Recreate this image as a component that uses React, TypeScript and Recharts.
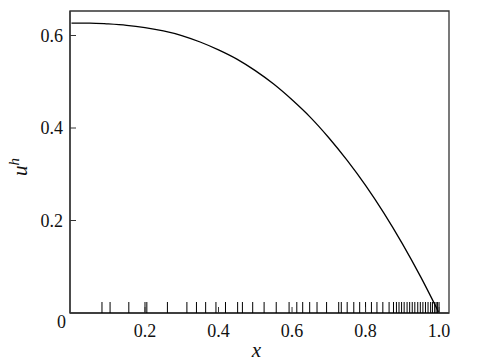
import React from "react";
import { ComposedChart, Line, Scatter, XAxis, YAxis, Label, ReferenceArea } from "recharts";

// discrete solution u^h sampled along x
const xGrid = [0, 0.05, 0.1, 0.15, 0.2, 0.25, 0.3, 0.35, 0.4, 0.45, 0.5, 0.55, 0.6, 0.65, 0.7, 0.75, 0.8, 0.85, 0.9, 0.95, 1.0];
const uh = [0.627, 0.627, 0.625, 0.622, 0.617, 0.61, 0.6, 0.586, 0.569, 0.549, 0.524, 0.495, 0.461, 0.423, 0.379, 0.33, 0.276, 0.216, 0.15, 0.078, 0.0];

// mesh nodes (rug marks along the bottom)
const meshNodes = [
	0.083, 0.105, 0.156, 0.2, 0.205, 0.261, 0.314, 0.34, 0.365, 0.393, 0.419, 0.452, 0.465, 0.493,
	0.524, 0.557, 0.592, 0.613, 0.629, 0.648, 0.668, 0.694, 0.727, 0.734, 0.75, 0.768, 0.784, 0.8,
	0.816, 0.831, 0.847, 0.864, 0.876, 0.884, 0.891, 0.898, 0.905, 0.913, 0.92, 0.927, 0.934, 0.942,
	0.949, 0.956, 0.963, 0.97, 0.977, 0.982, 0.988, 0.992, 0.996, 1.0,
];

const xTicks = [0.2, 0.4, 0.6, 0.8, 1.0];
const yTicks = [0, 0.2, 0.4, 0.6];

const X_DOMAIN = [-0.004, 1.027];
const Y_DOMAIN = [0, 0.653];

const curve = xGrid.map((x, i) => ({ x, u: uh[i] }));
const rug = meshNodes.map((x) => ({ x, u: 0 }));

const FONT = "serif";
const FRAME = "#333";

const XTick = ({ x, y, payload }: any) => (
	<g>
		<line x1={x} x2={x} y1={y} y2={y - 6} stroke={FRAME} strokeWidth={1} />
		<text x={x} y={y + 24} textAnchor="middle" fontFamily={FONT} fontSize={18} fill="#111">
			{payload.value.toFixed(1)}
		</text>
	</g>
);

const YTick = ({ x, y, payload }: any) => {
	const isZero = payload.value === 0;
	return (
		<g>
			{!isZero && <line x1={x + 7} x2={x + 13} y1={y} y2={y} stroke={FRAME} strokeWidth={1} />}
			<text
				x={isZero ? x + 3 : x}
				y={isZero ? y + 15 : y + 6}
				textAnchor="end"
				fontFamily={FONT}
				fontSize={18}
				fill="#111"
			>
				{isZero ? "0" : payload.value.toFixed(1)}
			</text>
		</g>
	);
};

const RugMark = ({ cx, cy }: any) => (
	<line x1={cx} x2={cx} y1={cy} y2={cy - 11} stroke="#000" strokeWidth={1} />
);

export default function App() {
	return (
		<div style={{ position: "absolute", left: 0, top: 0, width: 495, height: 362, background: "#fff" }}>
			<ComposedChart width={495} height={362} margin={{ top: 11, right: 46, bottom: 0, left: 0 }}>
				<XAxis
					xAxisId="bottom"
					type="number"
					dataKey="x"
					domain={X_DOMAIN}
					ticks={xTicks}
					height={49}
					tickSize={0}
					tickMargin={0}
					tick={<XTick />}
					axisLine={{ stroke: FRAME, strokeWidth: 1.3 }}
					allowDataOverflow
				>
					<Label
						content={({ viewBox }: any) => (
							<text
								x={viewBox.x + viewBox.width / 2 - 3}
								y={viewBox.y + 44}
								textAnchor="middle"
								fontFamily={FONT}
								fontStyle="italic"
								fontSize={21}
								fill="#111"
							>
								x
							</text>
						)}
					/>
				</XAxis>
				<YAxis
					yAxisId="left"
					type="number"
					domain={Y_DOMAIN}
					ticks={yTicks}
					width={70}
					tickSize={0}
					tickMargin={7}
					tick={<YTick />}
					axisLine={{ stroke: FRAME, strokeWidth: 1.3 }}
					allowDataOverflow
				>
					<Label
						content={() => (
							<text
								x={27}
								y={167}
								transform="rotate(-90 27 167)"
								textAnchor="middle"
								fontFamily={FONT}
								fontStyle="italic"
								fontSize={21}
								fill="#111"
							>
								u
								<tspan dy={-8} fontSize={15}>
									h
								</tspan>
							</text>
						)}
					/>
				</YAxis>
				<ReferenceArea
					xAxisId="bottom"
					yAxisId="left"
					x1={X_DOMAIN[0]}
					x2={X_DOMAIN[1]}
					y1={Y_DOMAIN[0]}
					y2={Y_DOMAIN[1]}
					fill="none"
					fillOpacity={0}
					stroke={FRAME}
					strokeWidth={1.3}
					ifOverflow="visible"
				/>
				<Line
					data={curve}
					xAxisId="bottom"
					yAxisId="left"
					dataKey="u"
					type="monotone"
					stroke="#000"
					strokeWidth={1.3}
					dot={false}
					activeDot={false}
					isAnimationActive={false}
				/>
				<Scatter
					data={rug}
					xAxisId="bottom"
					yAxisId="left"
					dataKey="u"
					shape={<RugMark />}
					isAnimationActive={false}
				/>
			</ComposedChart>
		</div>
	);
}
